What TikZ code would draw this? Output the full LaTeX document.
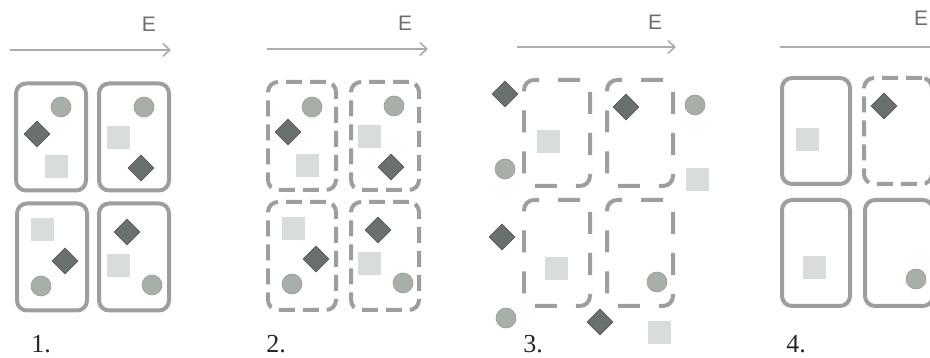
\documentclass[tikz,border=0pt]{standalone}
\usepackage{fontspec}
\newfontfamily\efont{Liberation Sans}
\newfontfamily\numfont{Liberation Serif}
\usetikzlibrary{shapes.geometric,arrows.meta}
\definecolor{boxc}{HTML}{9C9F9D}
\definecolor{circf}{HTML}{A8AFA9}
\definecolor{circd}{HTML}{969D97}
\definecolor{dmdf}{HTML}{6A706B}
\definecolor{dmdd}{HTML}{565B57}
\definecolor{sqf}{HTML}{D8DCDC}
\definecolor{arrc}{HTML}{A9AEAB}
\definecolor{txtc}{HTML}{6E6E6E}
\tikzset{
 cell/.style={draw=boxc, line width=4pt, rounded corners=10pt, minimum width=70pt, minimum height=107pt, inner sep=0pt},
 dcell/.style={cell, dash pattern=on 16pt off 8pt},
 wcell/.style={cell, dash pattern=on 22pt off 19pt},
 crc/.style={circle, fill=circf, draw=circd, line width=0.6pt, minimum size=20pt, inner sep=0pt},
 dmd/.style={diamond, fill=dmdf, draw=dmdd, line width=0.6pt, minimum size=26pt, inner sep=0pt},
 sqr/.style={rectangle, fill=sqf, minimum size=23pt, inner sep=0pt},
 earrow/.style={draw=arrc, line width=2pt, -{Straight Barb[length=7pt,width=13pt,line width=1.6pt]}},
 elabel/.style={text=txtc, font=\efont\fontsize{21}{21}\selectfont, inner sep=0pt},
 numlabel/.style={font=\numfont\fontsize{26}{26}\selectfont, inner sep=0pt, text=black!85},
}
\begin{document}
\begin{tikzpicture}[x=1pt,y=-1pt]
\useasboundingbox (0,0) rectangle (930,358);
\clip (0,0) rectangle (930,358);
% ---------- panel 1 ----------
\coordinate (a1s) at (10,50); \coordinate (a1e) at (171,50);
\draw[earrow] (a1s) -- (a1e);
\node[elabel] (e1) at (149,24) {E};
\node[cell] (b1a) at (51,137) {};
\node[cell] (b1b) at (134,137) {};
\node[cell] (b1c) at (52,257) {};
\node[cell] (b1d) at (134,257) {};
\node[crc] (c1a) at (61,107) {};
\node[dmd] (d1a) at (37,134) {};
\node[sqr] (s1a) at (56,167) {};
\node[crc] (c1b) at (144,107) {};
\node[sqr] (s1b) at (118,138) {};
\node[dmd] (d1b) at (141,168) {};
\node[sqr] (s1c) at (42,230) {};
\node[dmd] (d1c) at (65,261) {};
\node[crc] (c1c) at (41,286) {};
\node[dmd] (d1d) at (127,232) {};
\node[sqr] (s1d) at (118,266) {};
\node[crc] (c1d) at (152,285) {};
\node[numlabel] (n1) at (41,344) {1.};
% ---------- panel 2 ----------
\coordinate (a2s) at (267,49); \coordinate (a2e) at (428,49);
\draw[earrow] (a2s) -- (a2e);
\node[elabel] (e2) at (405,23) {E};
\node[dcell, minimum width=68pt, minimum height=108pt] (b2a) at (302,136) {};
\node[dcell, minimum width=68pt, minimum height=108pt] (b2b) at (385,136) {};
\node[dcell, minimum width=68pt, minimum height=108pt] (b2c) at (302,256) {};
\node[dcell, minimum width=68pt, minimum height=108pt] (b2d) at (385,256) {};
\node[crc] (c2a) at (312,107) {};
\node[dmd] (d2a) at (288,132) {};
\node[sqr] (s2a) at (307,166) {};
\node[crc] (c2b) at (394,106) {};
\node[sqr] (s2b) at (369,137) {};
\node[dmd] (d2b) at (391,167) {};
\node[sqr] (s2c) at (293,229) {};
\node[dmd] (d2c) at (316,259) {};
\node[crc] (c2c) at (292,284) {};
\node[dmd] (d2d) at (378,230) {};
\node[sqr] (s2d) at (369,264) {};
\node[crc] (c2d) at (403,283) {};
\node[numlabel] (n2) at (276,344) {2.};
% ---------- panel 3 ----------
\coordinate (a3s) at (517,47); \coordinate (a3e) at (676,47);
\draw[earrow] (a3s) -- (a3e);
\node[elabel] (e3) at (655,22) {E};
\node[wcell, minimum width=66pt, minimum height=106pt] (b3a) at (557,133) {};
\node[wcell, minimum width=66pt, minimum height=106pt] (b3b) at (640,133) {};
\node[wcell, minimum width=66pt, minimum height=106pt] (b3c) at (557,253) {};
\node[wcell, minimum width=66pt, minimum height=106pt] (b3d) at (640,253) {};
\node[dmd] (d3a) at (505,94) {};
\node[sqr] (s3a) at (548,142) {};
\node[crc] (c3a) at (505,169) {};
\node[dmd] (d3b) at (626,107) {};
\node[crc] (c3b) at (695,105) {};
\node[sqr] (s3b) at (697,180) {};
\node[dmd] (d3c) at (502,237) {};
\node[sqr] (s3c) at (556,269) {};
\node[crc] (c3c) at (506,318) {};
\node[crc] (c3d) at (657,282) {};
\node[dmd] (d3d) at (600,322) {};
\node[sqr] (s3d) at (659,333) {};
\node[numlabel] (n3) at (533,344) {3.};
% ---------- panel 4 ----------
\coordinate (a4s) at (780,47); \coordinate (a4e) at (942,47);
\draw[earrow] (a4s) -- (a4e);
\node[elabel] (e4) at (921,18) {E};
\node[cell, minimum width=68pt, minimum height=106pt] (b4a) at (816,131) {};
\node[dcell, minimum width=68pt, minimum height=106pt] (b4b) at (898,131) {};
\node[cell, minimum width=68pt, minimum height=106pt] (b4c) at (816,253) {};
\node[cell, minimum width=68pt, minimum height=106pt] (b4d) at (899,253) {};
\node[sqr] (s4a) at (807,140) {};
\node[dmd] (d4b) at (884,106) {};
\node[sqr] (s4c) at (814,268) {};
\node[crc] (c4d) at (916,279) {};
\node[numlabel] (n4) at (796,344) {4.};
\end{tikzpicture}
\end{document}
